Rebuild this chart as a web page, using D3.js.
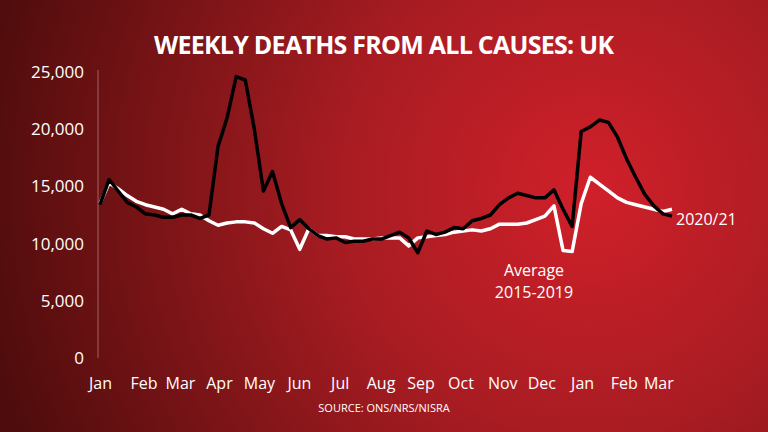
<!DOCTYPE html>
<html>
<head>
<meta charset="utf-8">
<script src="https://cdn.jsdelivr.net/npm/d3@7"></script>
<style>
body { margin: 0; overflow: hidden; }
text { font-family: "Open Sans", sans-serif; fill: #fff; }
</style>
</head>
<body>
<svg id="chart" width="768" height="432"></svg>
<script>
// weekly deaths (thousands), Jan 2020 - Mar 2021
const deaths2020 = [13.4, 15.6, 14.6, 13.6, 13.2, 12.6, 12.5, 12.3, 12.3, 12.5, 12.5, 12.2, 12.5, 18.5, 21.0, 24.6,
  24.3, 20.0, 14.6, 16.3, 13.5, 11.4, 12.1, 11.3, 10.7, 10.4, 10.5, 10.1, 10.2, 10.2, 10.4, 10.4, 10.7, 11.0,
  10.5, 9.2, 11.1, 10.8, 11.0, 11.4, 11.3, 12.0, 12.2, 12.5, 13.4, 14.0, 14.4, 14.2, 14.0, 14.0, 14.7, 13.0,
  11.5, 19.8, 20.2, 20.8, 20.6, 19.3, 17.4, 15.8, 14.3, 13.3, 12.6, 12.4];
const average = [13.5, 15.3, 14.8, 14.2, 13.7, 13.4, 13.2, 13.0, 12.6, 13.0, 12.6, 12.5, 12.0, 11.6, 11.8, 11.9,
  11.9, 11.8, 11.3, 10.9, 11.5, 11.2, 9.5, 11.3, 10.7, 10.7, 10.6, 10.6, 10.4, 10.4, 10.4, 10.5, 10.5, 10.5,
  9.8, 10.5, 10.6, 10.7, 10.8, 11.0, 11.1, 11.2, 11.1, 11.3, 11.7, 11.7, 11.7, 11.8, 12.1, 12.4, 13.3, 9.4,
  9.3, 13.5, 15.8, 15.2, 14.6, 14.0, 13.6, 13.4, 13.2, 13.0, 12.8, 13.0];
const monthLabels = ['Jan', 'Feb', 'Mar', 'Apr', 'May', 'Jun', 'Jul', 'Aug', 'Sep', 'Oct', 'Nov', 'Dec', 'Jan', 'Feb', 'Mar'];
const monthWeeks = [0, 4.8, 8.8, 13.1, 17.5, 21.9, 26.4, 30.9, 35.3, 39.7, 44.3, 48.6, 53.1, 57.7, 61.5];
const yTicks = [0, 5000, 10000, 15000, 20000, 25000];

const svg = d3.select('#chart');

// background
const defs = svg.append('defs');
const grad = defs.append('radialGradient')
    .attr('id', 'bg')
    .attr('gradientUnits', 'userSpaceOnUse')
    .attr('cx', 590).attr('cy', 190).attr('r', 620);
grad.append('stop').attr('offset', '0%').attr('stop-color', '#d0202a');
grad.append('stop').attr('offset', '40%').attr('stop-color', '#a81c22');
grad.append('stop').attr('offset', '100%').attr('stop-color', '#4e0c0c');
svg.append('rect').attr('width', 768).attr('height', 432).attr('fill', 'url(#bg)');

svg.append('text')
    .attr('x', 384).attr('y', 54)
    .attr('text-anchor', 'middle')
    .style('font-size', '25px').style('font-weight', 700)
    .style('font-family', '"Open Sans", sans-serif')
    .attr('textLength', 460)
    .text('WEEKLY DEATHS FROM ALL CAUSES: UK');

const x = d3.scaleLinear().domain([0, 63]).range([100, 672]);
const y = d3.scaleLinear().domain([0, 25000]).range([358, 72]);

svg.append('line')
    .attr('x1', 98).attr('x2', 98).attr('y1', 70).attr('y2', 358)
    .attr('stroke', 'rgba(255,255,255,0.35)').attr('stroke-width', 1);

const yAxis = svg.append('g')
    .attr('transform', 'translate(84,0)')
    .call(d3.axisLeft(y).tickValues(yTicks).tickSize(0).tickFormat(d3.format(',')));
yAxis.select('.domain').remove();
yAxis.selectAll('text').style('font-size', '17px').attr('x', 0).attr('text-anchor', 'end');

const xAxis = svg.append('g')
    .attr('transform', 'translate(0,372)')
    .call(d3.axisBottom(x).tickValues(monthWeeks).tickSize(0)
        .tickFormat((d, i) => monthLabels[i]));
xAxis.select('.domain').remove();
xAxis.selectAll('text').style('font-size', '16px').attr('dy', '0.9em');

const line = d3.line()
    .x((d, i) => x(i))
    .y(d => y(d * 1000));

svg.append('path').datum(average)
    .attr('d', line).attr('fill', 'none')
    .attr('stroke', '#fff').attr('stroke-width', 3.5).attr('stroke-linejoin', 'round');
svg.append('path').datum(deaths2020)
    .attr('d', line).attr('fill', 'none')
    .attr('stroke', '#000').attr('stroke-width', 3.5).attr('stroke-linejoin', 'round');

svg.append('text').attr('x', 676).attr('y', 225).style('font-size', '16px').text('2020/21');
svg.append('text').attr('x', 534).attr('y', 276).attr('text-anchor', 'middle').style('font-size', '16px').text('Average');
svg.append('text').attr('x', 534).attr('y', 298).attr('text-anchor', 'middle').style('font-size', '16px').text('2015-2019');

svg.append('text').attr('x', 384).attr('y', 412).attr('text-anchor', 'middle')
    .style('font-size', '11px').text('SOURCE: ONS/NRS/NISRA');
</script>
</body>
</html>
